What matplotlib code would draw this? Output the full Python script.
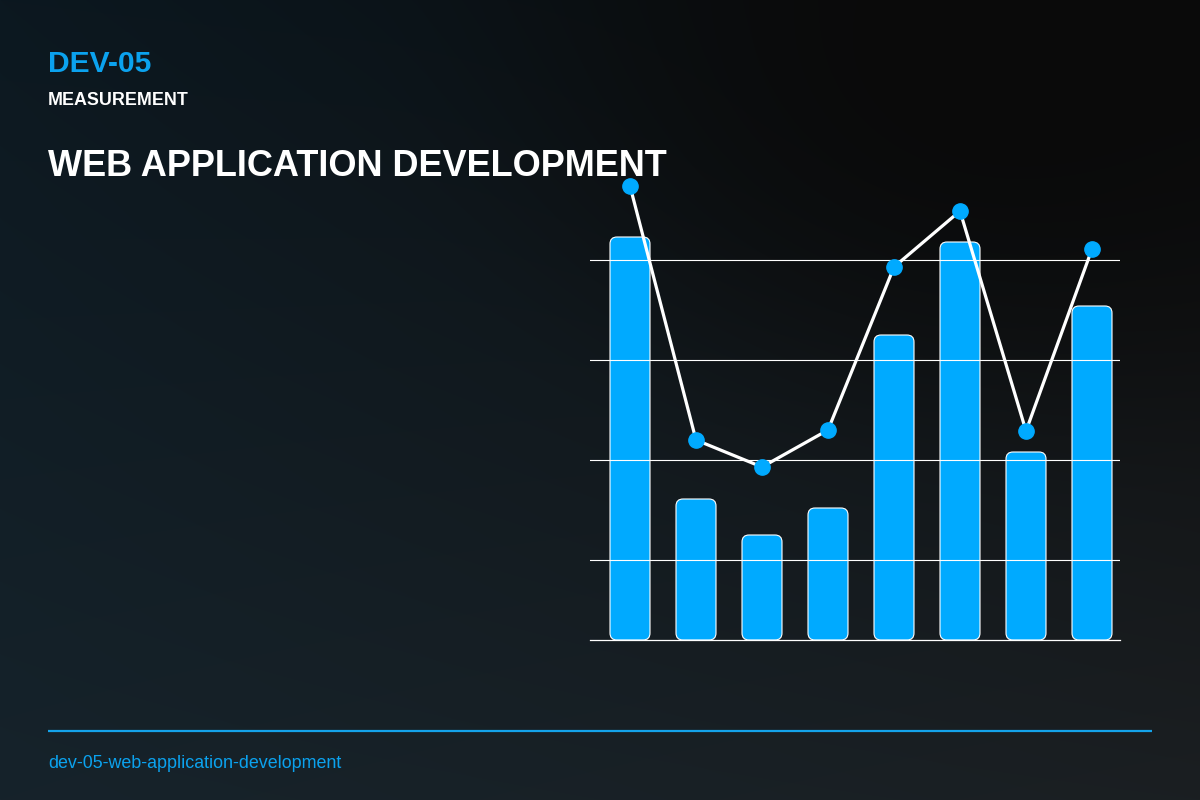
import numpy as np
import matplotlib
matplotlib.use("Agg")
import matplotlib.pyplot as plt
from matplotlib.patches import FancyBboxPatch

# ---- data ----
categories = ["C1", "C2", "C3", "C4", "C5", "C6", "C7", "C8"]
bar_values = [84.6, 32.2, 25.0, 30.4, 65.0, 83.6, 41.6, 70.8]
line_values = [94.8, 44.0, 38.6, 46.0, 78.6, 89.8, 45.8, 82.2]
grid_ticks = [20, 40, 60, 80]

code_label = "DEV-05"
kicker = "MEASUREMENT"
title = "WEB APPLICATION DEVELOPMENT"
slug = "dev-05-web-application-development"

BLUE = "#00AAFF"
TEXT_BLUE = "#0BA2EE"
W, H = 1200, 800

plt.rcParams['font.family'] = ['Liberation Sans', 'DejaVu Sans']

fig = plt.figure(figsize=(12, 8), dpi=100)

# ---- background gradient ----
bg = fig.add_axes([0, 0, 1, 1])
yy, xx = np.mgrid[0:H, 0:W].astype(float)
u = xx / (W - 1)
v = yy / (H - 1)
def c(h):
    h = h.lstrip('#')
    return np.array([int(h[i:i+2], 16) / 255 for i in (0, 2, 4)])
TL, TR, BL, BR = c("#0c1820"), c("#0a0a0a"), c("#16232b"), c("#1b1f22")
img = (TL[None, None, :] * ((1 - u) * (1 - v))[..., None]
       + TR[None, None, :] * (u * (1 - v))[..., None]
       + BL[None, None, :] * ((1 - u) * v)[..., None]
       + BR[None, None, :] * (u * v)[..., None])
d = np.sqrt(((xx - 1000) / 650) ** 2 + ((yy - 60) / 480) ** 2)
w = np.clip(1 - d, 0, 1)
w = w * w * (3 - 2 * w)
dark = c("#0a0a0a")
img = img * (1 - w[..., None]) + dark[None, None, :] * w[..., None]
bg.imshow(img, extent=[0, W, H, 0], aspect='auto', interpolation='bilinear')
bg.set_xlim(0, W)
bg.set_ylim(H, 0)
bg.axis('off')

# ---- texts ----
fig.text(48 / W, 1 - 72 / H, code_label, color=TEXT_BLUE, fontsize=21.6,
         fontweight='bold', va='baseline', ha='left')
fig.text(48 / W, 1 - 105 / H, kicker, color='white', fontsize=12.9,
         fontweight='bold', va='baseline', ha='left')
fig.text(48 / W, 1 - 176 / H, title, color='white', fontsize=26,
         fontweight='bold', va='baseline', ha='left')
fig.text(48 / W, 1 - 768 / H, slug, color=TEXT_BLUE, fontsize=12.9,
         va='baseline', ha='left')
bg.plot([48, 1152], [731, 731], color="#14A3EA", lw=1.6, solid_capstyle='butt')

# ---- chart ----
left_px, right_px, top_px, bottom_px = 590, 1120, 140, 640
ax = fig.add_axes([left_px / W, 1 - bottom_px / H,
                   (right_px - left_px) / W, (bottom_px - top_px) / H])
ax.set_facecolor('none')
x = np.arange(len(categories))
xlim = (-40 / 66, 7 + 28 / 66)
ylim = (4, 104)
ax.set_xlim(*xlim)
ax.set_ylim(*ylim)

bar_w = 40 / 66
bars = ax.bar(x, np.array(bar_values) - ylim[0], bottom=ylim[0],
              width=bar_w, color=BLUE)
x_upp = (xlim[1] - xlim[0]) / (right_px - left_px)
y_upp = (ylim[1] - ylim[0]) / (bottom_px - top_px)
aspect = y_upp / x_upp
rad = 7 * x_upp
for b in list(bars):
    bx, by = b.get_x(), b.get_y()
    bw, bh = b.get_width(), b.get_height()
    b.remove()
    p = FancyBboxPatch((bx, by), bw, bh,
                       boxstyle=f"round,pad=0,rounding_size={rad}",
                       mutation_aspect=aspect, facecolor=BLUE,
                       edgecolor='white', linewidth=0.8, zorder=1)
    ax.add_patch(p)

ax.set_yticks(grid_ticks)
ax.set_xticks([])
ax.yaxis.grid(True, color='white', linewidth=0.8)
ax.set_axisbelow(False)
ax.tick_params(length=0, labelleft=False, labelbottom=False)
for s in ax.spines.values():
    s.set_visible(False)
ax.spines['bottom'].set_visible(True)
ax.spines['bottom'].set_color('white')
ax.spines['bottom'].set_linewidth(0.9)
ax.spines['bottom'].set_zorder(3)

ax.plot(x, line_values, color='white', lw=2.3, zorder=4, clip_on=False)
ax.plot(x, line_values, linestyle='none', marker='o', markersize=11,
        markerfacecolor=BLUE, markeredgecolor=BLUE, zorder=5, clip_on=False)

fig.savefig("out.png", dpi=100)
